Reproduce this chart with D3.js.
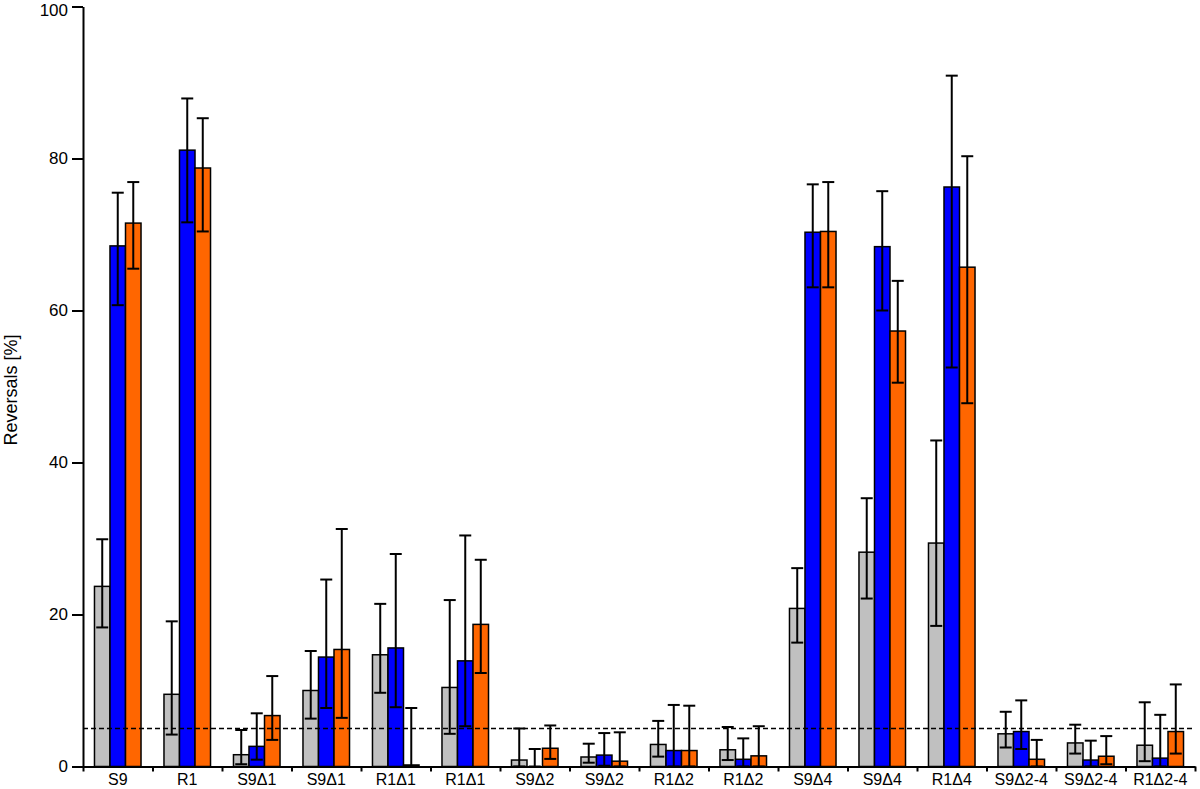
<!DOCTYPE html>
<html>
<head>
<meta charset="utf-8">
<script src="https://cdn.jsdelivr.net/npm/d3@7"></script>
<style>
  body { margin: 0; background: #fff; }
  svg { display: block; font-family: "Liberation Sans", Arial, sans-serif; }
</style>
</head>
<body>
<svg id="chart" width="1200" height="789"></svg>
<script>
const categories = ["S9","R1","S9Δ1","S9Δ1","R1Δ1","R1Δ1","S9Δ2","S9Δ2","R1Δ2","R1Δ2","S9Δ4","S9Δ4","R1Δ4","S9Δ2-4","S9Δ2-4","R1Δ2-4"];
const seriesNames = ["gray","blue","orange"];
const seriesColors = ["#c0c0c0","#0000ff","#ff6600"];

const grayVals  = [23.7, 9.5, 1.55, 10.0, 14.7, 10.4, 0.85, 1.25, 2.9, 2.2, 20.8, 28.2, 29.4, 4.3, 3.1, 2.8];
const grayHi    = [29.9, 19.1, 4.8, 15.2, 21.4, 21.9, 5.0, 3.0, 6.0, 5.2, 26.1, 35.3, 42.9, 7.2, 5.5, 8.45];
const grayLo    = [18.3, 4.2, 0.3, 6.3, 9.7, 4.3, 0, 0.5, 1.3, 0.85, 16.3, 22.1, 18.5, 2.5, 1.7, 0.7];

const blueVals  = [68.5, 81.1, 2.65, 14.4, 15.6, 13.9, 0, 1.5, 2.1, 0.95, 70.3, 68.4, 76.25, 4.6, 0.85, 1.1];
const blueHi    = [75.5, 87.9, 7.0, 24.6, 27.96, 30.4, 2.3, 4.4, 8.1, 3.7, 76.6, 75.7, 90.9, 8.7, 3.4, 6.8];
const blueLo    = [60.7, 71.6, 0.9, 7.7, 7.8, 5.3, 0, 0.1, 0, 0, 63.05, 60.0, 52.5, 2.3, 0, 0];

const orangeVals = [71.5, 78.75, 6.7, 15.4, 0.2, 18.7, 2.4, 0.7, 2.1, 1.4, 70.4, 57.3, 65.7, 0.95, 1.35, 4.6];
const orangeHi   = [76.9, 85.3, 11.9, 31.25, 7.7, 27.2, 5.4, 4.5, 8.0, 5.3, 76.9, 63.9, 80.3, 3.5, 4.0, 10.8];
const orangeLo   = [65.5, 70.4, 3.5, 6.4, 0, 12.3, 1.0, 0, 0, 0, 63.05, 50.5, 47.8, 0, 0.3, 1.7];

const yTicks = [0, 20, 40, 60, 80, 100];
const thresholdValue = 5;
const yLabel = "Reversals [%]";

const values = [grayVals, blueVals, orangeVals];
const his = [grayHi, blueHi, orangeHi];
const los = [grayLo, blueLo, orangeLo];

const svg = d3.select("#chart");
const mLeft = 83, mRight = 1195, mTop = 6.5, mBottom = 766.5;

const x = d3.scaleBand().domain(d3.range(categories.length)).range([mLeft, mRight]).padding(0);
const xs = d3.scaleBand().domain(seriesNames).range([0, x.bandwidth()]).paddingInner(0).paddingOuter(0.74);
const xEdge = d3.scaleLinear().domain([0, categories.length]).range([mLeft, mRight]);
const y = d3.scaleLinear().domain([0, 100]).range([mBottom, mTop]);

// bars
const rows = [];
categories.forEach((c, i) => {
  seriesNames.forEach((s, j) => {
    rows.push({i, s, j, v: values[j][i], hi: his[j][i], lo: los[j][i]});
  });
});

svg.append("g").selectAll("rect").data(rows).join("rect")
  .attr("x", d => x(d.i) + xs(d.s))
  .attr("y", d => y(d.v))
  .attr("width", xs.bandwidth())
  .attr("height", d => y(0) - y(d.v))
  .attr("fill", d => seriesColors[d.j])
  .attr("stroke", "#000")
  .attr("stroke-width", 1.5);

// error bars
const capW = 6;
const eg = svg.append("g").attr("stroke", "#000").attr("stroke-width", 2);
rows.forEach(d => {
  const cx = x(d.i) + xs(d.s) + xs.bandwidth() / 2;
  eg.append("line").attr("x1", cx).attr("x2", cx).attr("y1", y(d.lo)).attr("y2", y(d.hi));
  eg.append("line").attr("x1", cx - capW).attr("x2", cx + capW).attr("y1", y(d.hi)).attr("y2", y(d.hi));
  eg.append("line").attr("x1", cx - capW).attr("x2", cx + capW).attr("y1", y(d.lo)).attr("y2", y(d.lo));
});

// threshold line
svg.append("line")
  .attr("x1", mLeft).attr("x2", mRight)
  .attr("y1", y(thresholdValue)).attr("y2", y(thresholdValue))
  .attr("stroke", "#000").attr("stroke-width", 1.5)
  .attr("stroke-dasharray", "5,3");

// y axis
const yAxis = svg.append("g").attr("transform", `translate(${mLeft},0)`)
  .call(d3.axisLeft(y).tickValues(yTicks).tickSize(11).tickPadding(4).tickSizeOuter(0));
yAxis.select(".domain").attr("stroke-width", 2);
yAxis.selectAll(".tick line").attr("stroke-width", 2);
yAxis.selectAll("text").attr("font-size", 17).attr("fill", "#000").attr("font-family", "Liberation Sans, Arial, sans-serif")
  .attr("dy", d => d === 100 ? "0.55em" : "0.32em");

// x axis: ticks at group edges
const xAxis = svg.append("g").attr("transform", `translate(0,${mBottom})`)
  .call(d3.axisBottom(xEdge).tickValues(d3.range(categories.length + 1)).tickFormat("").tickSize(5).tickSizeOuter(0));
xAxis.select(".domain").attr("stroke-width", 2);
xAxis.selectAll(".tick line").attr("stroke-width", 2);

// x labels at band centres
const xLab = svg.append("g").attr("transform", `translate(0,${mBottom})`)
  .call(d3.axisBottom(x).tickFormat(i => categories[i]).tickSize(0).tickPadding(7));
xLab.select(".domain").remove();
xLab.selectAll("text").attr("font-size", 16).attr("fill", "#000").attr("font-family", "Liberation Sans, Arial, sans-serif")
  .attr("dy", "0.71em");

// y label
svg.append("text")
  .attr("transform", `translate(17,390) rotate(-90)`)
  .attr("text-anchor", "middle")
  .attr("font-size", 18)
  .attr("fill", "#000")
  .text(yLabel);
</script>
</body>
</html>
